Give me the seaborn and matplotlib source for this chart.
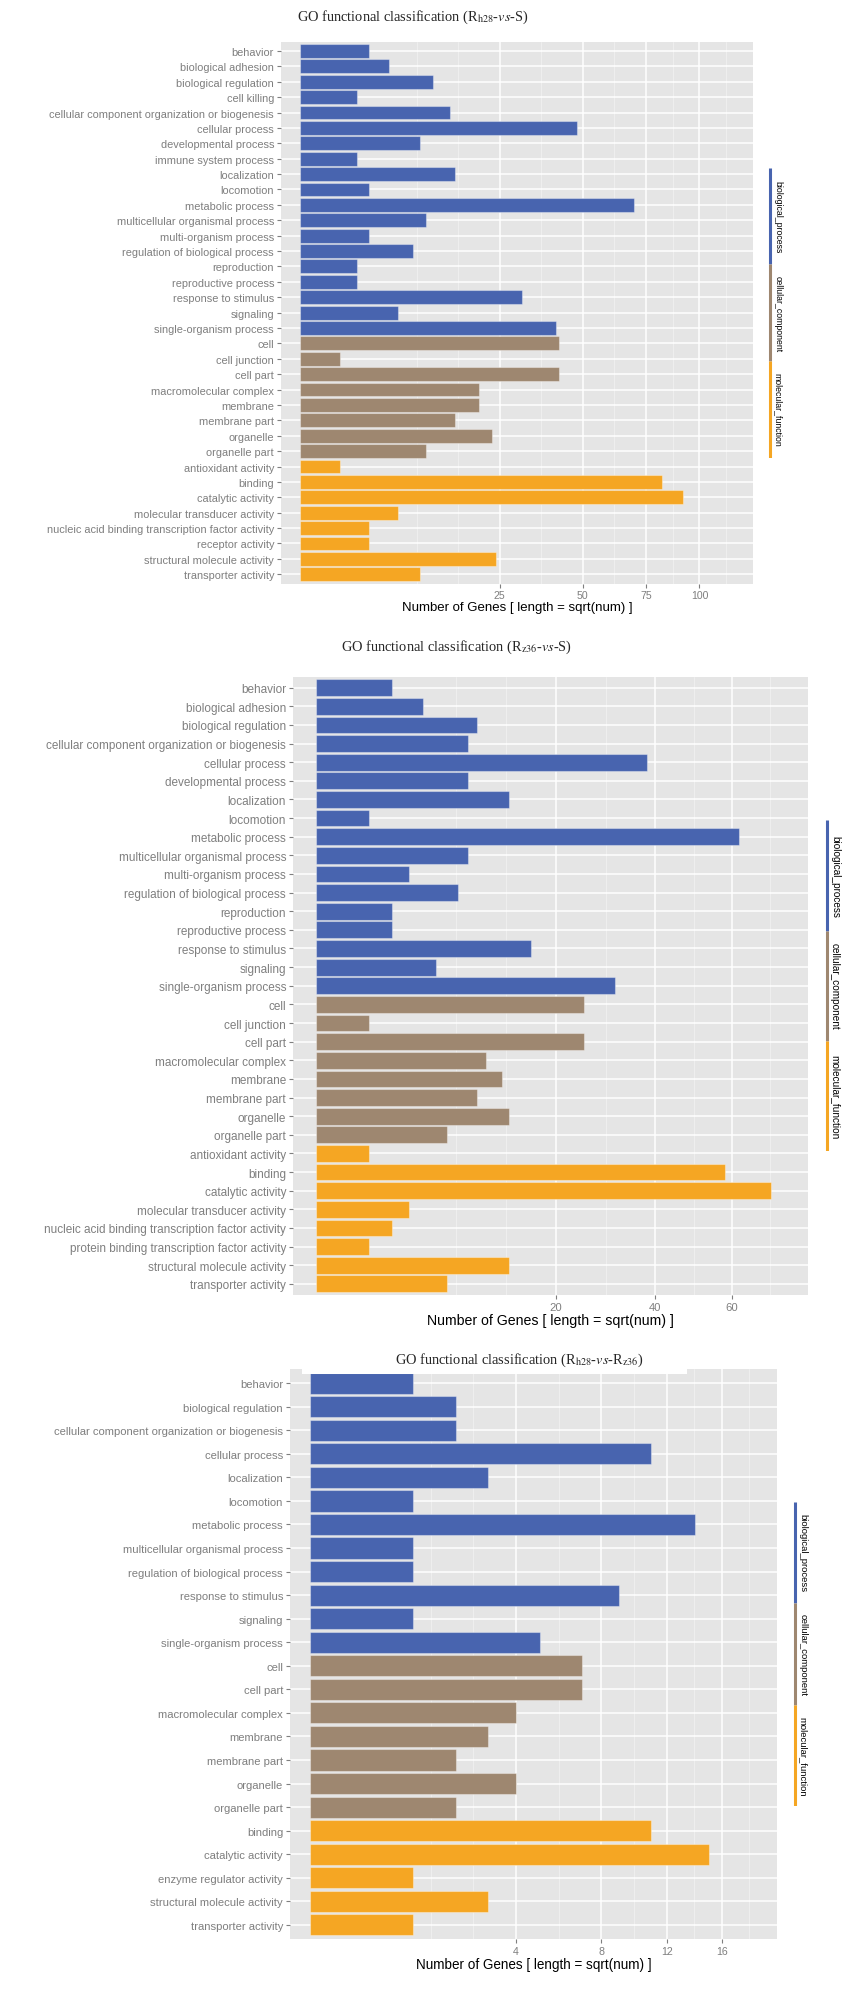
import numpy as np
import pandas as pd
import matplotlib
matplotlib.use('Agg')
import matplotlib.pyplot as plt
from matplotlib.patches import Rectangle
import seaborn as sns

sns.set_style('darkgrid', {'axes.facecolor': '#E5E5E5', 'grid.color': 'white'})
plt.rcParams['font.family'] = ['Liberation Sans', 'DejaVu Sans']
plt.rcParams['mathtext.fontset'] = 'stix'

DOMAINS = ['biological_process', 'cellular_component', 'molecular_function']
PALETTE = {'biological_process': '#4864AF',
           'cellular_component': '#9E8770',
           'molecular_function': '#F5A623'}

# Rh28 vs S
terms1 = ['behavior', 'biological adhesion', 'biological regulation', 'cell killing',
          'cellular component organization or biogenesis', 'cellular process',
          'developmental process', 'immune system process', 'localization', 'locomotion',
          'metabolic process', 'multicellular organismal process', 'multi-organism process',
          'regulation of biological process', 'reproduction', 'reproductive process',
          'response to stimulus', 'signaling', 'single-organism process',
          'cell', 'cell junction', 'cell part', 'macromolecular complex', 'membrane',
          'membrane part', 'organelle', 'organelle part',
          'antioxidant activity', 'binding', 'catalytic activity',
          'molecular transducer activity', 'nucleic acid binding transcription factor activity',
          'receptor activity', 'structural molecule activity', 'transporter activity']
genes1 = [3, 5, 11, 2, 14, 48, 9, 2, 15, 3, 70, 10, 3, 8, 2, 2, 31, 6, 41,
          42, 1, 42, 20, 20, 15, 23, 10,
          1, 82, 92, 6, 3, 3, 24, 9]
sizes1 = [19, 8, 8]
breaks1 = [25, 50, 75, 100]

# Rz36 vs S
terms2 = ['behavior', 'biological adhesion', 'biological regulation',
          'cellular component organization or biogenesis', 'cellular process',
          'developmental process', 'localization', 'locomotion', 'metabolic process',
          'multicellular organismal process', 'multi-organism process',
          'regulation of biological process', 'reproduction', 'reproductive process',
          'response to stimulus', 'signaling', 'single-organism process',
          'cell', 'cell junction', 'cell part', 'macromolecular complex', 'membrane',
          'membrane part', 'organelle', 'organelle part',
          'antioxidant activity', 'binding', 'catalytic activity',
          'molecular transducer activity', 'nucleic acid binding transcription factor activity',
          'protein binding transcription factor activity', 'structural molecule activity',
          'transporter activity']
genes2 = [2, 4, 9, 8, 38, 8, 13, 1, 62, 8, 3, 7, 2, 2, 16, 5, 31,
          25, 1, 25, 10, 12, 9, 13, 6,
          1, 58, 72, 3, 2, 1, 13, 6]
sizes2 = [17, 8, 8]
breaks2 = [20, 40, 60]

# Rh28 vs Rz36
terms3 = ['behavior', 'biological regulation',
          'cellular component organization or biogenesis', 'cellular process',
          'localization', 'locomotion', 'metabolic process',
          'multicellular organismal process', 'regulation of biological process',
          'response to stimulus', 'signaling', 'single-organism process',
          'cell', 'cell part', 'macromolecular complex', 'membrane', 'membrane part',
          'organelle', 'organelle part',
          'binding', 'catalytic activity', 'enzyme regulator activity',
          'structural molecule activity', 'transporter activity']
genes3 = [1, 2, 2, 11, 3, 1, 14, 1, 1, 9, 1, 5,
          7, 7, 4, 3, 2, 4, 2,
          11, 15, 1, 3, 1]
sizes3 = [12, 7, 5]
breaks3 = [4, 8, 12, 16]

W, H = 848, 2008
fig = plt.figure(figsize=(W / 100, H / 100), dpi=100)


def px_axes(left, top, right, bottom):
    return fig.add_axes([left / W, 1 - bottom / H, (right - left) / W, (bottom - top) / H])


def fwd(x):
    return np.sign(x) * np.sqrt(np.abs(x))


def inv(x):
    return np.sign(x) * np.asarray(x) ** 2


def draw_panel(box, terms, genes, sizes, breaks, fs, title, title_xy, leg_x, leg_fs):
    ax = px_axes(*box)
    df = pd.DataFrame({'term': terms, 'genes': genes,
                       'domain': np.repeat(DOMAINS, sizes)})
    sns.barplot(data=df, x='genes', y='term', hue='domain', hue_order=DOMAINS,
                order=terms, palette=PALETTE, dodge=False, width=0.9, legend=False,
                saturation=1, edgecolor=(1, 1, 1, 0.35), linewidth=0.8, ax=ax)

    # ggplot-like sqrt scale, 5% expansion
    ax.set_xscale('function', functions=(fwd, inv))
    top = np.sqrt(df['genes'].max())
    ax.set_xlim(inv(-0.05 * top), inv(1.05 * top))
    ax.set_ylim(len(terms) - 0.4, -0.6)

    t = np.sqrt(breaks)
    d = np.diff(t)
    ext = np.r_[t[0] - d[0], t, t[-1] + d[-1]]
    minor = np.r_[ext, (ext[:-1] + ext[1:]) / 2]
    minor = minor[~np.isin(minor, t)]
    ax.set_xticks(breaks, [str(b) for b in breaks])
    ax.set_xticks(inv(minor), minor=True)

    ax.grid(False)
    ax.grid(which='major', color='white', linewidth=1.1)
    ax.grid(which='minor', axis='x', color='#F0F0F0', linewidth=0.6)
    ax.set_axisbelow(True)
    ax.tick_params(which='major', bottom=True, left=True, length=3, width=0.8,
                   color='#7F7F7F', labelcolor='#7F7F7F', labelsize=fs, pad=2)
    ax.tick_params(axis='x', labelsize=fs * 0.95)
    ax.tick_params(which='minor', length=0)
    for s in ax.spines.values():
        s.set_visible(False)
    ax.set_ylabel('')
    ax.set_xlabel('Number of Genes [ length = sqrt(num) ]', fontsize=fs * 1.2,
                  color='black', labelpad=0.5)

    fig.text(title_xy[0] / W, 1 - title_xy[1] / H, title, ha='center', va='baseline',
             family='Liberation Serif', fontsize=10.4, zorder=5)

    # domain bar on the right
    mid = (box[1] + box[3]) / 2
    half = 0.2675 * (box[3] - box[1])
    lax = px_axes(leg_x - 4, mid - half, leg_x + 20, mid + half)
    lax.set_xlim(0, 24)
    lax.set_ylim(len(DOMAINS), 0)
    lax.axis('off')
    for i, dom in enumerate(DOMAINS):
        lax.plot([4, 4], [i, i + 1], color=PALETTE[dom], lw=2.2, solid_capstyle='butt')
        lax.text(12, i + 0.5, dom, rotation=270, ha='center', va='center',
                 fontsize=leg_fs, color='black')
    return ax


draw_panel((281, 42.7, 753, 584.5), terms1, genes1, sizes1, breaks1, 7.95,
           r'GO functional classification (R$_{\mathrm{h28}}$-$\mathit{vs}$-S)',
           (413, 21), 770, 6.3)
draw_panel((293, 677.5, 808, 1296), terms2, genes2, sizes2, breaks2, 8.5,
           r'GO functional classification (R$_{\mathrm{z36}}$-$\mathit{vs}$-S)',
           (457, 651), 827, 7.2)
draw_panel((290, 1370, 777, 1940), terms3, genes3, sizes3, breaks3, 8.1,
           r'GO functional classification (R$_{\mathrm{h28}}$-$\mathit{vs}$-R$_{\mathrm{z36}}$)',
           (519, 1364), 795, 6.8)

# white title strip overlapping the third panel
fig.add_artist(Rectangle((302 / W, 1 - 1375 / H), (687 - 302) / W, 30 / H,
                         transform=fig.transFigure, facecolor='white',
                         edgecolor='none', zorder=2))

fig.savefig('out.png', dpi=100)
